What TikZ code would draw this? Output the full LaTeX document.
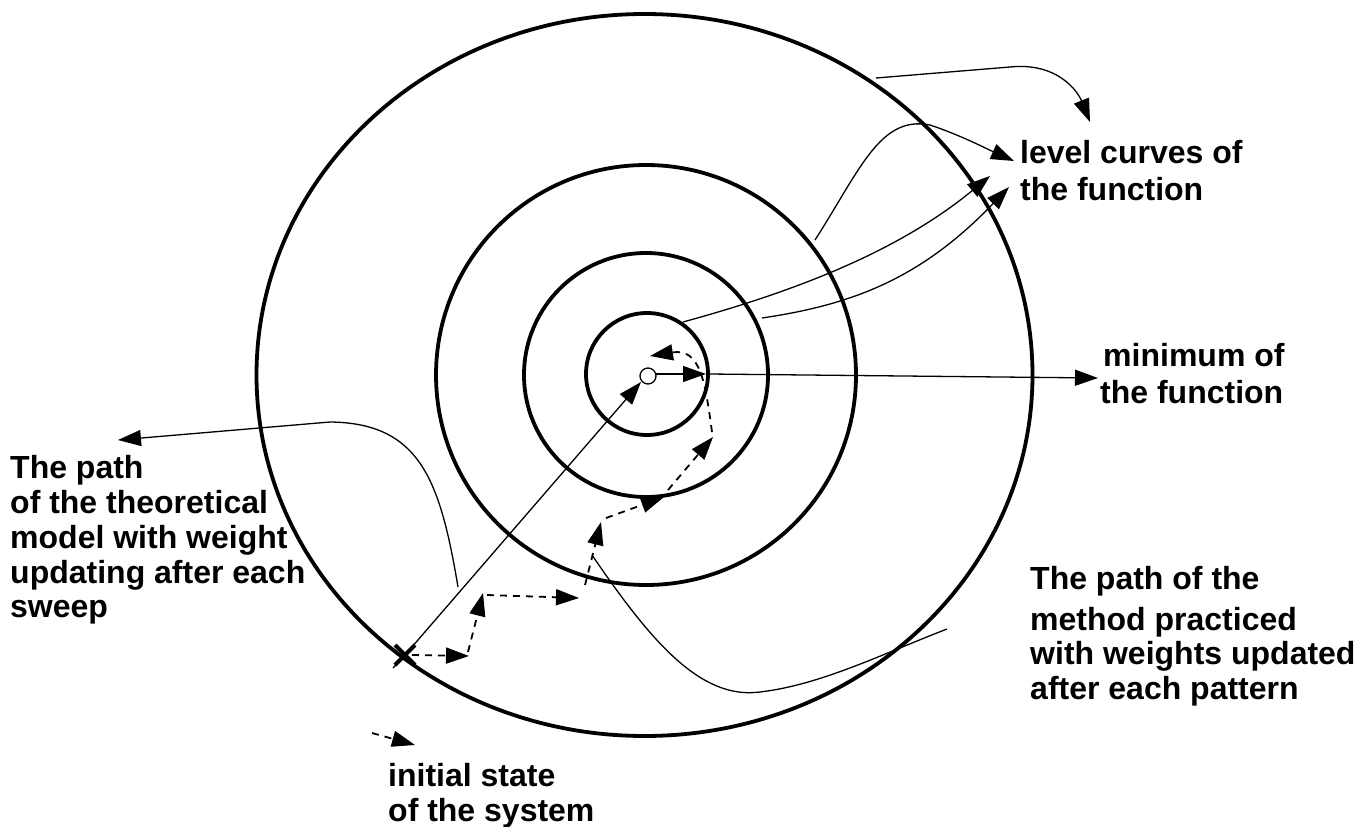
\documentclass[tikz,border=0pt]{standalone}
\usepackage{fontspec}
\setmainfont{Liberation Sans}
\usetikzlibrary{arrows.meta}
\begin{document}
\begin{tikzpicture}[x=1pt,y=-1pt,
  lev/.style={line width=3.8pt},
  thn/.style={line width=1.3pt},
  dsh/.style={line width=1.8pt, dash pattern=on 7pt off 6pt},
  tip/.style={-{Triangle[length=23pt,width=16pt]}},
  lbl/.style={font=\fontsize{32}{35}\selectfont\bfseries, anchor=base west, inner sep=0pt}]
\useasboundingbox[fill=white] (0,0) rectangle (1361,827);

% level curves
\draw[lev] (644.5,375) ellipse [x radius=388, y radius=361];
\draw[lev] (646,375) circle [radius=210];
\draw[lev] (646,375) circle [radius=122];
\draw[lev] (647,374) circle [radius=61];

% labels
\node[lbl] (lc1) at (1020,163) {level curves of};
\node[lbl] (lc2) at (1020,200) {the function};
\node[lbl] (mn1) at (1103,366) {minimum of};
\node[lbl] (mn2) at (1100,403) {the function};
\node[lbl] (tp1) at (10,478) {The path};
\node[lbl] (tp2) at (10,513) {of the theoretical};
\node[lbl] (tp3) at (10,548) {model with weight};
\node[lbl] (tp4) at (10,583) {updating after each};
\node[lbl] (tp5) at (10,617) {sweep};
\node[lbl] (mp1) at (1030,589) {The path of the};
\node[lbl] (mp2) at (1030,630) {method practiced};
\node[lbl] (mp3) at (1030,664) {with weights updated};
\node[lbl] (mp4) at (1030,699) {after each pattern};
\node[lbl] (is1) at (388,786) {initial state};
\node[lbl] (is2) at (388,821) {of the system};

% key coordinates
\coordinate (xm) at (405,655);
\coordinate (cen) at (648,376);
\coordinate (oa) at (876,78);
\coordinate (oaT) at (1090,122);
\coordinate (tb) at (815,240);
\coordinate (tbT) at (1014,161);
\coordinate (ic) at (683,322);
\coordinate (icT) at (990,176);
\coordinate (sd) at (762,318);
\coordinate (sdT) at (1009,187);
\coordinate (mnA) at (706,374);
\coordinate (mnB) at (709,374);
\coordinate (mnT) at (1098,378);
\coordinate (thS) at (458,587);
\coordinate (thT) at (118,440);
\coordinate (prS) at (592,555);
\coordinate (prE) at (947,629);
\coordinate (isA) at (372,733);
\coordinate (isT) at (415,745);

% pointers to level curves
\draw[thn,tip] (oa) -- (1010,67) .. controls (1058,62) and (1078,92) .. (oaT);
\draw[thn,tip] (tb) .. controls (860,170) and (880,115) .. (930,125) .. controls (960,135) and (985,148) .. (tbT);
\draw[thn,tip] (ic) .. controls (800,290) and (900,250) .. (icT);
\draw[thn,tip] (sd) .. controls (850,305) and (920,280) .. (sdT);

% minimum
\draw[thn] (cen) circle [radius=8];
\draw[thn,tip] (656,374) -- (mnA);
\draw[thn,tip] (mnB) -- (mnT);

% theoretical path
\draw[thn] (393,668) -- (xm);
\draw[thn,tip] (xm) -- (641,382);
\draw[thn,tip] (thS) .. controls (440,480) and (420,423) .. (330,422) -- (thT);

% practiced path
\draw[dsh,tip] (412,655) -- (469,656);
\draw[dsh,tip] (468,652) -- (483,593);
\draw[dsh,tip] (487,595) -- (579,598);
\draw[dsh,tip] (585,585) -- (601,522);
\draw[dsh,tip] (606,518) -- (664,497);
\draw[dsh,tip] (668,490) -- (713,437);
\draw[dsh,tip] (712,432) .. controls (705,380) and (700,348) .. (650,356);
\draw[thn] (prS) .. controls (650,640) and (700,700) .. (760,692) .. controls (820,685) and (880,655) .. (prE);

% initial state
\draw[line width=4pt] (395,645) -- (415,665) (415,645) -- (395,665);
\draw[dsh,tip] (isA) -- (isT);
\end{tikzpicture}
\end{document}
